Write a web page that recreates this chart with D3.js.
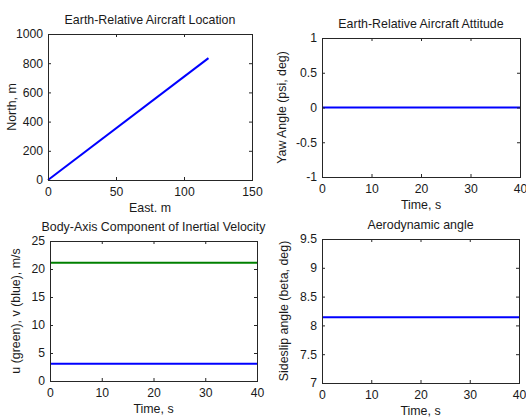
<!DOCTYPE html>
<html>
<head>
<meta charset="utf-8">
<script src="https://cdn.jsdelivr.net/npm/d3@7"></script>
<style>
  html, body { margin: 0; padding: 0; background: #fff; }
  svg { display: block; }
  text { font-family: "Liberation Sans", Arial, Helvetica, sans-serif; }
</style>
</head>
<body>
<svg id="chart" width="526" height="417"></svg>
<script>
// ---------- data ----------
const eastM = [0, 118];
const northM = [0, 835];
const timeS = [0, 40];
const yawPsiDeg = [0, 0];
const uGreen = [21.1, 21.1];
const vBlue = [3.1, 3.1];
const betaDeg = [8.14, 8.14];

const locXTicks = [0, 50, 100, 150];
const locYTicks = [0, 200, 400, 600, 800, 1000];
const timeTicks = [0, 10, 20, 30, 40];
const yawTicks = [-1, -0.5, 0, 0.5, 1];
const velTicks = [0, 5, 10, 15, 20, 25];
const betaTicks = [7, 7.5, 8, 8.5, 9, 9.5];

const titles = ["Earth-Relative Aircraft Location", "Earth-Relative Aircraft Attitude",
                "Body-Axis Component of Inertial Velocity", "Aerodynamic angle"];
const xLabels = ["East. m", "Time, s", "Time, s", "Time, s"];
const yLabels = ["North, m", "Yaw Angle (psi, deg)", "u (green), v (blue), m/s", "Sideslip angle (beta, deg)"];

// ---------- layout ----------
const layout = [
  { l: 48, t: 34, r: 252, b: 180, ylx: 16 },
  { l: 322, t: 38, r: 520, b: 177, ylx: 286 },
  { l: 50, t: 241, r: 257, b: 381, ylx: 20 },
  { l: 322, t: 239, r: 519, b: 383, ylx: 288 }
];

const panels = [
  { xDom: [0, 150], yDom: [0, 1000], xt: locXTicks, yt: locYTicks,
    series: [{ x: eastM, y: northM, color: "#0000ff" }] },
  { xDom: [0, 40], yDom: [-1, 1], xt: timeTicks, yt: yawTicks,
    series: [{ x: timeS, y: yawPsiDeg, color: "#0000ff" }] },
  { xDom: [0, 40], yDom: [0, 25], xt: timeTicks, yt: velTicks,
    series: [{ x: timeS, y: uGreen, color: "#008000" }, { x: timeS, y: vBlue, color: "#0000ff" }] },
  { xDom: [0, 40], yDom: [7, 9.5], xt: timeTicks, yt: betaTicks,
    series: [{ x: timeS, y: betaDeg, color: "#0000ff" }] }
];

const svg = d3.select("#chart");
const fmt = d => String(d);
const axisColor = "#262626";
const textColor = "#1a1a1a";

panels.forEach((p, i) => {
  const L = layout[i];
  const x = d3.scaleLinear().domain(p.xDom).range([L.l, L.r]);
  const y = d3.scaleLinear().domain(p.yDom).range([L.b, L.t]);
  const g = svg.append("g");

  // data lines
  p.series.forEach(s => {
    g.append("path")
      .datum(s.x.map((xv, k) => [xv, s.y[k]]))
      .attr("d", d3.line().x(d => x(d[0])).y(d => y(d[1])))
      .attr("fill", "none")
      .attr("stroke", s.color)
      .attr("stroke-width", 2);
  });

  const styleAxis = sel => {
    sel.select(".domain").remove();
    sel.selectAll(".tick line").attr("stroke", axisColor);
    sel.selectAll(".tick text").attr("fill", textColor).style("font-size", "12.2px");
  };

  g.append("g").attr("transform", `translate(0,${L.b})`)
    .call(d3.axisBottom(x).tickValues(p.xt).tickFormat(fmt).tickSize(-3).tickPadding(7))
    .call(styleAxis);
  g.append("g").attr("transform", `translate(0,${L.t})`)
    .call(d3.axisTop(x).tickValues(p.xt).tickFormat("").tickSize(-3))
    .call(styleAxis);
  g.append("g").attr("transform", `translate(${L.l},0)`)
    .call(d3.axisLeft(y).tickValues(p.yt).tickFormat(fmt).tickSize(-3).tickPadding(5))
    .call(styleAxis);
  g.append("g").attr("transform", `translate(${L.r},0)`)
    .call(d3.axisRight(y).tickValues(p.yt).tickFormat("").tickSize(-3))
    .call(styleAxis);

  // frame
  g.append("rect")
    .attr("x", L.l + 0.5).attr("y", L.t + 0.5)
    .attr("width", L.r - L.l).attr("height", L.b - L.t)
    .attr("fill", "none").attr("stroke", axisColor).attr("stroke-width", 1);

  // title
  g.append("text")
    .attr("x", (L.l + L.r) / 2).attr("y", L.t - 10.5)
    .attr("text-anchor", "middle").attr("fill", textColor)
    .style("font-size", "12.4px").text(titles[i]);

  // x label
  g.append("text")
    .attr("x", (L.l + L.r) / 2).attr("y", L.b + 32)
    .attr("text-anchor", "middle").attr("fill", textColor)
    .style("font-size", "12.4px").text(xLabels[i]);

  // y label
  const cy = (L.t + L.b) / 2;
  g.append("text")
    .attr("transform", `translate(${L.ylx},${cy}) rotate(-90)`)
    .attr("text-anchor", "middle").attr("fill", textColor)
    .style("font-size", "12.4px").text(yLabels[i]);
});
</script>
</body>
</html>
